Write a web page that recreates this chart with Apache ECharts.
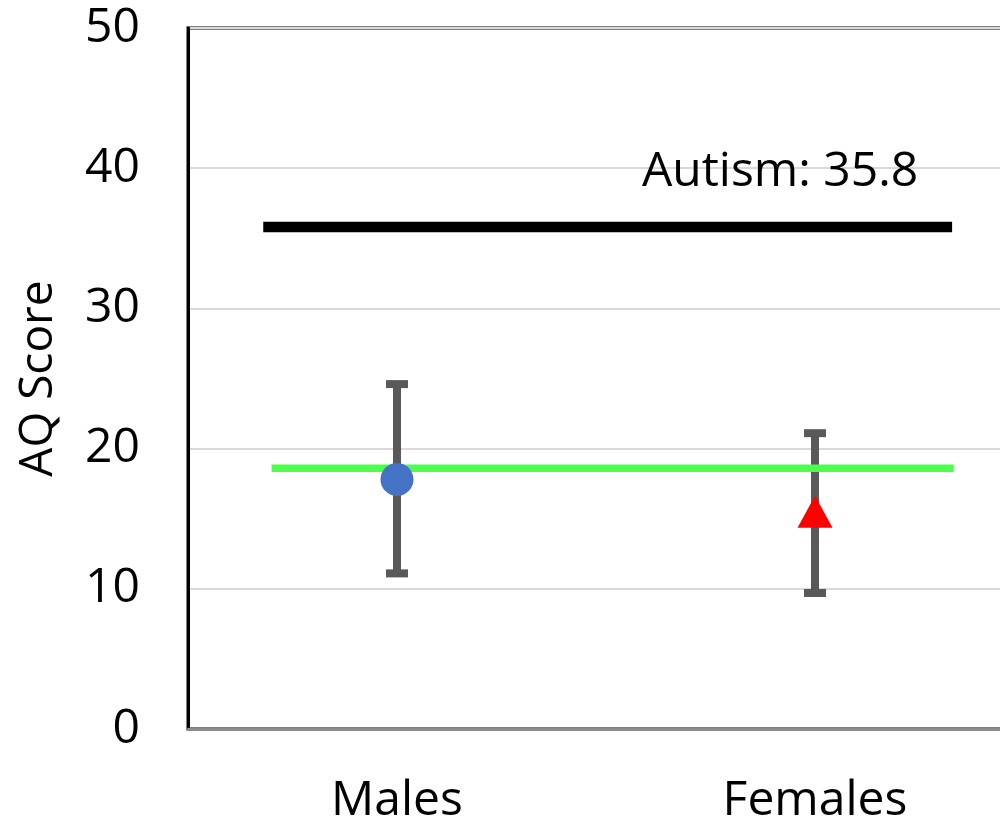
<!DOCTYPE html>
<html>
<head>
<meta charset="utf-8">
<script src="https://cdn.jsdelivr.net/npm/echarts@6/dist/echarts.min.js"></script>
<style>
  html, body { margin: 0; padding: 0; background: #fff; overflow: hidden; }
  #app { width: 1030px; height: 825px; }
</style>
</head>
<body>
<div id="app"></div>
<script>
// groups on the x axis
const groups = ["Males", "Females"];
// mean AQ score per group
const means = [17.8, 15.5];
// error bar ends (low, high) per group
const errLow = [11.1, 9.7];
const errHigh = [24.6, 21.1];
// reference levels
const autismLevel = 35.8;
const generalLevel = 18.6;
// y axis ticks
const yMin = 0, yMax = 50, yStep = 10;

// where the reference lines start / stop, as a fraction of the plot width
const autismSpan = [0.09, 0.914];
const generalSpan = [0.1, 0.916];
const labelAnchor = [0.543, 39.7];

const font = "'Open Sans', sans-serif";

function errorBars(params, api) {
  const x = api.value(0);
  const lo = api.coord([x, api.value(1)]);
  const hi = api.coord([x, api.value(2)]);
  const cap = 11;
  const style = { stroke: "#595959", lineWidth: 8 };
  return {
    type: "group",
    children: [
      { type: "line", shape: { x1: lo[0], y1: lo[1], x2: hi[0], y2: hi[1] }, style },
      { type: "line", shape: { x1: hi[0] - cap, y1: hi[1], x2: hi[0] + cap, y2: hi[1] }, style },
      { type: "line", shape: { x1: lo[0] - cap, y1: lo[1], x2: lo[0] + cap, y2: lo[1] }, style }
    ]
  };
}

window.addEventListener("load", () => {
  const chart = echarts.init(document.getElementById("app"));
  chart.setOption({
    backgroundColor: "#fff",
    animation: false,
    grid: {
      left: 188, top: 28, right: 6, bottom: 96,
      show: true, borderColor: "#000", borderWidth: 3
    },
    xAxis: [
      {
        type: "category",
        data: groups,
        axisLine: { lineStyle: { color: "#8c8c8c", width: 3 } },
        axisTick: { show: false },
        axisLabel: { color: "#000", fontSize: 48, fontFamily: font, margin: 48 }
      },
      { type: "value", min: 0, max: 1, show: false }
    ],
    yAxis: {
      type: "value",
      min: yMin, max: yMax, interval: yStep,
      name: "AQ Score",
      nameLocation: "middle",
      nameGap: 126,
      nameTextStyle: { color: "#000", fontSize: 46, fontFamily: font },
      axisLine: { show: true, lineStyle: { color: "#000", width: 3 } },
      axisTick: { show: false },
      axisLabel: { color: "#000", fontSize: 48, fontFamily: font, margin: 48 },
      splitLine: { lineStyle: { color: "#d9d9d9", width: 2 } }
    },
    series: [
      {
        type: "line",
        xAxisIndex: 1,
        data: autismSpan.map(x => [x, autismLevel]),
        symbol: "none",
        lineStyle: { color: "#000", width: 10.5 },
        z: 2,
        markPoint: {
          symbol: "circle", symbolSize: 0,
          data: [{ coord: labelAnchor }],
          label: {
            show: true, position: "right", distance: 0,
            formatter: "Autism: " + autismLevel,
            color: "#000", fontSize: 48, fontFamily: font
          }
        }
      },
      {
        type: "custom",
        renderItem: errorBars,
        data: groups.map((g, i) => [i, errLow[i], errHigh[i]]),
        z: 3
      },
      {
        type: "line",
        xAxisIndex: 1,
        data: generalSpan.map(x => [x, generalLevel]),
        symbol: "none",
        lineStyle: { color: "#4dff4d", width: 7.5 },
        z: 4
      },
      {
        type: "scatter",
        data: [
          { value: [0, means[0]], symbol: "circle", symbolSize: 33, itemStyle: { color: "#4472c4", opacity: 1 } },
          { value: [1, means[1]], symbol: "triangle", symbolSize: [35, 32], itemStyle: { color: "#ff0000", opacity: 1 } }
        ],
        z: 5
      }
    ]
  });
});
</script>
</body>
</html>
